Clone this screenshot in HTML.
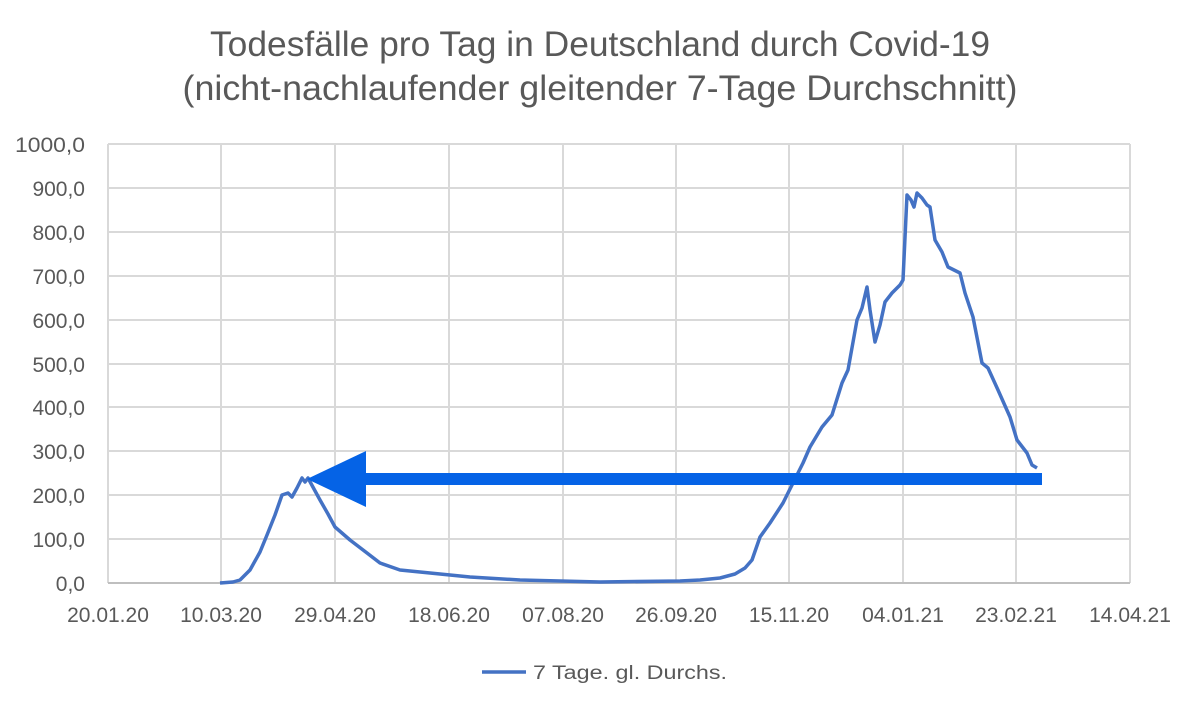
<!DOCTYPE html>
<html><head><meta charset="utf-8"><style>
body{margin:0;background:#fff;}
svg{display:block;font-family:"Liberation Sans",sans-serif;}
</style></head><body>
<svg width="1200" height="709" viewBox="0 0 1200 709">
<rect width="1200" height="709" fill="#fff"/>
<text x="600" y="56" text-anchor="middle" font-size="35" fill="#595959" textLength="780" lengthAdjust="spacingAndGlyphs">Todesfälle pro Tag in Deutschland durch Covid-19</text>
<text x="600" y="100" text-anchor="middle" font-size="35" fill="#595959" textLength="835" lengthAdjust="spacingAndGlyphs">(nicht-nachlaufender gleitender 7-Tage Durchschnitt)</text>
<g stroke="#d9d9d9" stroke-width="2">
<line x1="108" y1="144" x2="1130" y2="144"/><line x1="108" y1="188" x2="1130" y2="188"/><line x1="108" y1="232" x2="1130" y2="232"/><line x1="108" y1="276" x2="1130" y2="276"/><line x1="108" y1="320" x2="1130" y2="320"/><line x1="108" y1="364" x2="1130" y2="364"/><line x1="108" y1="407" x2="1130" y2="407"/><line x1="108" y1="451" x2="1130" y2="451"/><line x1="108" y1="495" x2="1130" y2="495"/><line x1="108" y1="539" x2="1130" y2="539"/>
<line x1="108" y1="144" x2="108" y2="583"/><line x1="221" y1="144" x2="221" y2="583"/><line x1="335" y1="144" x2="335" y2="583"/><line x1="449" y1="144" x2="449" y2="583"/><line x1="563" y1="144" x2="563" y2="583"/><line x1="676" y1="144" x2="676" y2="583"/><line x1="789" y1="144" x2="789" y2="583"/><line x1="903" y1="144" x2="903" y2="583"/><line x1="1016" y1="144" x2="1016" y2="583"/><line x1="1130" y1="144" x2="1130" y2="583"/>
</g>
<line x1="108" y1="583" x2="1130" y2="583" stroke="#bfbfbf" stroke-width="2"/>
<g font-size="21" fill="#595959" text-anchor="end">
<text x="85" y="152" textLength="70" lengthAdjust="spacingAndGlyphs">1000,0</text><text x="85" y="196">900,0</text><text x="85" y="240">800,0</text><text x="85" y="284">700,0</text><text x="85" y="328">600,0</text><text x="85" y="372">500,0</text><text x="85" y="415">400,0</text><text x="85" y="459">300,0</text><text x="85" y="503">200,0</text><text x="85" y="547">100,0</text><text x="85" y="591">0,0</text>
</g>
<g font-size="21" fill="#595959" text-anchor="middle">
<text x="108" y="622">20.01.20</text><text x="221" y="622">10.03.20</text><text x="335" y="622">29.04.20</text><text x="449" y="622">18.06.20</text><text x="563" y="622">07.08.20</text><text x="676" y="622">26.09.20</text><text x="789" y="622">15.11.20</text><text x="903" y="622">04.01.21</text><text x="1016" y="622">23.02.21</text><text x="1130" y="622">14.04.21</text>
</g>
<polyline fill="none" stroke="#4472c4" stroke-width="3.5" stroke-linejoin="round" points="220,583 233,582 240,580 250,570 260,552 267,535 275,515 282,495 288,493 292,497 297,488 302,478 305,482 308,478 314,489 320,500 328,514 335,527 350,540 367,553 380,563 400,570 430,573 470,577 520,580 600,582 680,581 700,580 720,578 735,574 745,568 752,560 760,537 770,523 783,503 793,483 803,463 810,447 822,427 832,415 842,383 848,370 857,320 862,308 867,287 870,310 875,342 880,325 885,302 892,293 900,285 903,280 907,195 911,200 914,207 917,193 922,198 927,205 930,207 935,240 942,252 948,267 960,273 965,293 973,317 982,363 988,368 998,390 1010,417 1017,440 1027,453 1032,465 1037,468"/>
<rect x="360" y="473" width="682" height="12" fill="#0563e6"/>
<polygon points="307,479 366,451 366,507" fill="#0563e6"/>
<line x1="482" y1="672" x2="526" y2="672" stroke="#4472c4" stroke-width="3.5"/>
<text x="533" y="679" font-size="19" fill="#595959" textLength="194" lengthAdjust="spacingAndGlyphs">7 Tage. gl. Durchs.</text>
</svg>
</body></html>
